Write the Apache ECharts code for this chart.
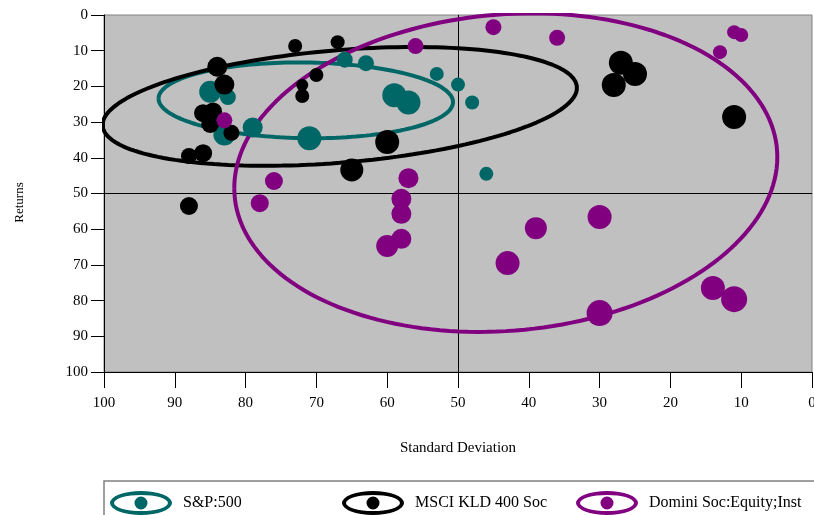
<!DOCTYPE html>
<html>
<head>
<meta charset="utf-8">
<script src="https://cdn.jsdelivr.net/npm/echarts@6/dist/echarts.min.js"></script>
<style>
html,body{margin:0;padding:0;background:#fff;}
#chart{width:814px;height:515px;}
</style>
</head>
<body>
<div id="chart"></div>
<script>
// ---- data ----
const seriesNames = ['S&P:500', 'MSCI KLD 400 Soc', 'Domini Soc:Equity;Inst'];
const xTickValues = [100, 90, 80, 70, 60, 50, 40, 30, 20, 10, 0];
const yTickValues = [0, 10, 20, 30, 40, 50, 60, 70, 80, 90, 100];

const spX    = [85, 82.5, 83, 79, 71, 66, 63, 53, 50, 48, 59, 57, 46];
const spY    = [21.5, 23, 33.5, 31.5, 34.5, 12.5, 13.5, 16.5, 19.5, 24.5, 22.5, 24.5, 44.5];
const spSize = [22, 16, 22, 20, 24, 16, 16, 14, 14, 14, 24, 24, 14];

const kldX    = [84, 83, 86, 84.6, 85, 82, 88, 86, 88, 73, 67, 70, 72, 72, 60, 65, 27, 25, 28, 11];
const kldY    = [14.5, 19.5, 27.5, 27, 30.5, 33, 39.5, 38.7, 53.5, 8.7, 7.6, 16.8, 19.6, 22.7, 35.6, 43.4, 13.4, 16.5, 19.6, 28.6];
const kldSize = [20, 20, 18, 18, 18, 16, 16, 18, 18, 14, 14, 14, 12, 14, 24, 23, 24, 24, 24, 24];

const domX    = [83, 76, 78, 56, 45, 36, 57, 58, 58, 58, 60, 39, 43, 30, 30, 14, 11, 11, 10, 13];
const domY    = [29.5, 46.5, 52.7, 8.7, 3.4, 6.4, 45.7, 51.5, 55.7, 62.7, 64.7, 59.7, 69.5, 56.6, 83.5, 76.5, 79.6, 4.8, 5.6, 10.4];
const domSize = [16, 18, 18, 16, 16, 16, 20, 20, 20, 20, 22, 22, 24, 24, 26, 24, 26, 14, 14, 14];

// ellipse parameters: [centerX, centerY, radiusX, radiusY, shear]
const spEllipse  = [71.5, 23.9, 20.8, 10.6, -0.5];
const kldEllipse = [66.7, 25.6, 33.5, 15.8, 5.2];
const domEllipse = [43.25, 44.15, 38.35, 44.4, 4.35];

const crossX = 50, crossY = 50;

// ---- build ----
const colors = ['#006666', '#000000', '#800080'];
const FONT = 'Liberation Serif';

function zip(xs, ys, ss) { return xs.map((x, i) => [x, ys[i], ss[i]]); }
function ellipsePts(p) {
  const pts = [];
  const n = 180;
  for (let i = 0; i <= n; i++) {
    const t = i / n * Math.PI * 2;
    pts.push([p[0] + p[2] * Math.cos(t), p[1] + p[4] * Math.cos(t) + p[3] * Math.sin(t)]);
  }
  return pts;
}

const iconPath = 'path://M0,12 A31,12 0 1,1 62,12 A31,12 0 1,1 0,12 Z M4,12 A27,8 0 1,0 58,12 A27,8 0 1,0 4,12 Z M24.5,12 A6.5,6.5 0 1,1 37.5,12 A6.5,6.5 0 1,1 24.5,12 Z';

const groups = [
  {name: seriesNames[0], pts: zip(spX, spY, spSize), ell: spEllipse, color: colors[0]},
  {name: seriesNames[1], pts: zip(kldX, kldY, kldSize), ell: kldEllipse, color: colors[1]},
  {name: seriesNames[2], pts: zip(domX, domY, domSize), ell: domEllipse, color: colors[2]}
];

const series = [];
groups.forEach((g, gi) => {
  const ellSeries = {
    name: g.name + ' ellipse',
    type: 'line',
    data: ellipsePts(g.ell),
    showSymbol: false,
    symbol: 'none',
    smooth: false,
    clip: true,
    silent: true,
    lineStyle: {color: g.color, width: 4},
    itemStyle: {color: g.color},
    z: 2
  };
  if (gi === 0) {
    ellSeries.markLine = {
      silent: true,
      symbol: ['none', 'none'],
      label: {show: false},
      lineStyle: {color: '#000', width: 1, type: 'solid'},
      data: [{xAxis: crossX}, {yAxis: crossY}],
      z: 1
    };
  }
  series.push(ellSeries);
  series.push({
    name: g.name,
    type: 'scatter',
    data: g.pts,
    symbol: 'circle',
    symbolSize: v => v[2],
    itemStyle: {color: g.color, opacity: 1},
    z: 2
  });
});

const legendLefts = [105, 337, 571];
const legends = seriesNames.map((n, i) => ({
  data: [{name: n, icon: iconPath}],
  left: legendLefts[i],
  top: 486,
  itemWidth: 62,
  itemHeight: 24,
  itemGap: 0,
  selectedMode: false,
  textStyle: {fontFamily: FONT, fontSize: 16, color: '#000', padding: [0, 0, 0, 6]}
}));

const chart = echarts.init(document.getElementById('chart'), null, {renderer: 'canvas'});
chart.setOption({
  animation: false,
  backgroundColor: '#ffffff',
  grid: {
    left: 104, top: 15, right: 2, bottom: 143,
    containLabel: false, outerBoundsMode: 'none',
    show: true, backgroundColor: '#c0c0c0', borderColor: '#808080', borderWidth: 1
  },
  legend: legends,
  graphic: [{
    type: 'rect',
    shape: {x: 104, y: 481, width: 712, height: 60},
    style: {fill: '#fff', stroke: '#808080', lineWidth: 1.5},
    z: -1, silent: true
  }],
  xAxis: {
    type: 'value', min: 0, max: 100, interval: 10, inverse: true, position: 'bottom',
    name: 'Standard Deviation', nameLocation: 'middle', nameGap: 69,
    nameTextStyle: {fontFamily: FONT, fontSize: 15, color: '#000'},
    axisLine: {show: true, onZero: false, lineStyle: {color: '#000', width: 1}},
    axisTick: {show: true, length: 16, lineStyle: {color: '#000'}},
    axisLabel: {fontFamily: FONT, fontSize: 15, color: '#000', margin: 24,
      formatter: v => xTickValues.indexOf(v) >= 0 ? String(v) : ''},
    splitLine: {show: false}
  },
  yAxis: {
    type: 'value', min: 0, max: 100, interval: 10, inverse: true, position: 'left',
    name: 'Returns', nameLocation: 'middle', nameGap: 78,
    nameTextStyle: {fontFamily: FONT, fontSize: 13, color: '#000', padding: [0, 18, 0, 0]},
    axisLine: {show: true, onZero: false, lineStyle: {color: '#000', width: 1}},
    axisTick: {show: true, length: 13, lineStyle: {color: '#000'}},
    axisLabel: {fontFamily: FONT, fontSize: 15, color: '#000', margin: 16,
      formatter: v => yTickValues.indexOf(v) >= 0 ? String(v) : ''},
    splitLine: {show: false}
  },
  series: series
});
</script>
</body>
</html>
